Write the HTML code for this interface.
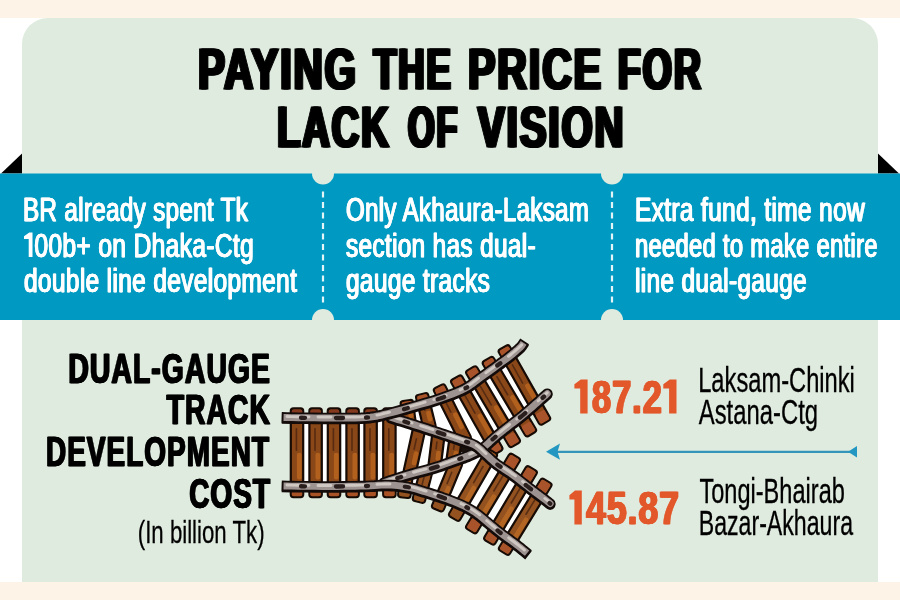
<!DOCTYPE html>
<html><head><meta charset="utf-8"><title>Paying the price for lack of vision</title>
<style>
html,body{margin:0;padding:0;}
body{width:900px;height:600px;overflow:hidden;background:#fff;font-family:"Liberation Sans",sans-serif;}
svg{display:block;position:absolute;left:0;top:0;}
text{font-family:"Liberation Sans",sans-serif;}
</style></head><body>
<svg width="900" height="600" viewBox="0 0 900 600">
<rect x="0" y="0" width="900" height="600" fill="#ffffff"/>
<rect x="0" y="0" width="900" height="18" fill="#fef3e7"/>
<rect x="0" y="582" width="900" height="18" fill="#fef3e7"/>
<path d="M22 582 V44 A26 26 0 0 1 48 18 H852 A26 26 0 0 1 878 44 V582 Z" fill="#dfebde"/>
<polygon points="1,173.6 22,153.6 22,173.6" fill="#000"/>
<polygon points="899,173.6 878,153.6 878,173.6" fill="#000"/>
<rect x="0" y="173.5" width="900" height="146.5" fill="#0099c1"/>
<circle cx="323" cy="173.5" r="11" fill="#dfebde"/>
<circle cx="612" cy="173.5" r="11" fill="#dfebde"/>
<circle cx="323" cy="320" r="11" fill="#dfebde"/>
<circle cx="612" cy="320" r="11" fill="#dfebde"/>
<line x1="323" y1="191.5" x2="323" y2="303" stroke="#e4f5f8" stroke-width="2.2" stroke-dasharray="6 4.5"/>
<line x1="612" y1="191.5" x2="612" y2="303" stroke="#e4f5f8" stroke-width="2.2" stroke-dasharray="6 4.5"/>
<g id="track"><polygon points="297.0,417.5 298.4,417.7 306.2,417.8 314.6,417.9 322.7,418.0 330.0,418.0 336.6,418.0 343.0,418.0 349.3,418.0 355.3,418.0 360.9,417.8 366.0,417.5 370.4,417.1 374.1,416.6 377.5,416.0 380.7,415.3 384.1,414.4 388.0,413.5 392.4,412.4 397.2,411.1 402.2,409.7 407.2,408.2 412.1,406.8 416.6,405.5 420.8,404.3 424.8,403.2 428.6,402.1 432.3,401.0 436.1,399.8 440.0,398.5 444.1,397.1 448.3,395.6 452.5,394.0 456.6,392.4 460.5,390.7 464.0,389.0 467.1,387.3 469.9,385.5 472.5,383.7 474.9,381.8 477.4,379.9 480.0,378.0 482.8,376.0 485.6,374.0 488.5,371.9 491.3,369.9 494.0,367.9 496.6,366.0 499.0,364.3 501.3,362.6 503.5,361.0 505.6,359.5 507.6,358.0 509.5,356.5 511.3,355.1 537.0,402.8 534.8,404.8 532.4,406.8 530.0,409.0 527.5,411.2 524.9,413.4 522.3,415.6 519.6,417.8 516.8,420.0 513.9,422.2 511.0,424.4 508.3,426.5 505.8,428.4 503.6,430.2 501.5,431.8 499.6,433.4 497.7,434.9 495.9,436.4 494.0,438.0 492.1,439.7 490.2,441.4 488.4,443.2 486.5,444.9 484.6,446.5 482.6,448.0 480.6,449.4 478.6,450.6 476.5,451.8 474.4,452.9 472.2,453.9 469.8,455.0 467.3,456.1 464.6,457.1 461.9,458.0 459.1,459.0 456.2,460.0 453.3,461.0 450.5,462.0 447.7,463.1 444.8,464.1 441.8,465.2 438.6,466.3 435.0,467.4 430.9,468.6 426.4,469.8 421.6,471.1 416.7,472.4 412.0,473.7 407.5,475.0 403.1,476.3 398.5,477.8 394.0,479.2 389.9,480.6 386.5,481.7 384.0,482.5 297.0,486.0" fill="#ffffff"/><polygon points="297.0,417.5 391.0,417.5 392.8,418.0 395.1,418.7 398.0,419.6 401.1,420.5 404.4,421.5 407.5,422.5 410.7,423.5 414.1,424.6 417.6,425.7 421.0,426.8 424.4,427.9 427.6,428.9 430.6,429.9 433.4,430.8 436.1,431.7 438.7,432.6 441.4,433.5 444.1,434.4 446.9,435.3 449.7,436.2 452.5,437.1 455.2,438.1 458.0,439.0 460.6,439.9 463.2,440.8 465.8,441.6 468.3,442.4 470.7,443.3 473.1,444.3 475.3,445.5 477.4,446.9 479.3,448.4 481.2,450.0 482.9,451.7 484.7,453.4 486.5,455.0 488.2,456.5 489.8,458.0 491.4,459.5 493.1,461.0 494.9,462.6 497.0,464.2 499.4,465.9 501.9,467.7 504.7,469.5 507.5,471.3 510.3,473.2 513.1,475.2 515.9,477.3 518.8,479.5 521.7,481.8 524.5,484.0 527.2,486.1 529.6,488.0 531.8,489.6 533.7,491.1 535.5,492.4 537.2,493.7 538.9,494.9 540.6,496.2 508.5,538.8 506.4,537.2 504.2,535.6 502.0,534.0 499.8,532.3 497.7,530.6 495.5,528.8 493.3,527.0 491.2,525.3 489.0,523.5 486.8,521.7 484.7,519.9 482.6,518.1 480.4,516.3 478.2,514.6 476.0,513.0 473.8,511.5 471.6,510.1 469.3,508.8 467.0,507.5 464.6,506.2 462.0,505.0 459.2,503.8 456.3,502.6 453.3,501.4 450.2,500.2 447.2,499.1 444.1,498.0 441.1,496.9 438.0,495.9 435.0,494.9 431.9,493.9 428.9,492.9 425.8,492.0 422.8,491.1 419.7,490.1 416.7,489.2 413.7,488.4 410.6,487.6 407.5,487.0 404.3,486.5 401.2,486.0 398.0,485.6 394.7,485.3 391.4,485.1 388.0,485.0 384.6,485.0 381.4,485.1 378.0,485.3 374.5,485.6 370.5,485.8 366.0,486.0 360.9,486.1 355.3,486.2 349.3,486.3 343.0,486.4 336.6,486.5 330.0,486.5 322.7,486.5 314.6,486.4 306.2,486.3 298.4,486.2 297.0,486.0" fill="#ffffff"/><g transform="translate(297.0,408.4) rotate(90.0)"><rect x="0" y="-6.2" width="88.8" height="12.4" rx="2.6" fill="#8a4718" stroke="#170b06" stroke-width="2.2"/><rect x="1" y="-5.2" width="11.0" height="10.4" rx="2" fill="#84391f"/><rect x="76.8" y="-5.2" width="11.0" height="10.4" rx="2" fill="#a85226"/><rect x="44.4" y="-4.6" width="26.6" height="4.7" rx="2" fill="#b9651f" opacity="0.85"/><rect x="19.5" y="-0.2" width="23.1" height="1.6" rx="0.8" fill="#4a2410" opacity="0.8"/></g><g transform="translate(315.6,408.4) rotate(90.0)"><rect x="0" y="-6.2" width="88.8" height="12.4" rx="2.6" fill="#8a4718" stroke="#170b06" stroke-width="2.2"/><rect x="1" y="-5.2" width="11.0" height="10.4" rx="2" fill="#84391f"/><rect x="76.8" y="-5.2" width="11.0" height="10.4" rx="2" fill="#a85226"/><rect x="44.4" y="-4.6" width="26.6" height="4.7" rx="2" fill="#b9651f" opacity="0.85"/><rect x="19.5" y="-0.2" width="23.1" height="1.6" rx="0.8" fill="#4a2410" opacity="0.8"/></g><g transform="translate(334.0,408.4) rotate(90.0)"><rect x="0" y="-6.2" width="88.8" height="12.4" rx="2.6" fill="#8a4718" stroke="#170b06" stroke-width="2.2"/><rect x="1" y="-5.2" width="11.0" height="10.4" rx="2" fill="#84391f"/><rect x="76.8" y="-5.2" width="11.0" height="10.4" rx="2" fill="#a85226"/><rect x="44.4" y="-4.6" width="26.6" height="4.7" rx="2" fill="#b9651f" opacity="0.85"/><rect x="19.5" y="-0.2" width="23.1" height="1.6" rx="0.8" fill="#4a2410" opacity="0.8"/></g><g transform="translate(352.6,408.4) rotate(90.0)"><rect x="0" y="-6.2" width="88.8" height="12.4" rx="2.6" fill="#8a4718" stroke="#170b06" stroke-width="2.2"/><rect x="1" y="-5.2" width="11.0" height="10.4" rx="2" fill="#84391f"/><rect x="76.8" y="-5.2" width="11.0" height="10.4" rx="2" fill="#a85226"/><rect x="44.4" y="-4.6" width="26.6" height="4.7" rx="2" fill="#b9651f" opacity="0.85"/><rect x="19.5" y="-0.2" width="23.1" height="1.6" rx="0.8" fill="#4a2410" opacity="0.8"/></g><g transform="translate(370.6,408.4) rotate(90.0)"><rect x="0" y="-6.2" width="88.8" height="12.4" rx="2.6" fill="#8a4718" stroke="#170b06" stroke-width="2.2"/><rect x="1" y="-5.2" width="11.0" height="10.4" rx="2" fill="#84391f"/><rect x="76.8" y="-5.2" width="11.0" height="10.4" rx="2" fill="#a85226"/><rect x="44.4" y="-4.6" width="26.6" height="4.7" rx="2" fill="#b9651f" opacity="0.85"/><rect x="19.5" y="-0.2" width="23.1" height="1.6" rx="0.8" fill="#4a2410" opacity="0.8"/></g><g transform="translate(389.4,408.4) rotate(90.0)"><rect x="0" y="-6.2" width="88.8" height="12.4" rx="2.6" fill="#8a4718" stroke="#170b06" stroke-width="2.2"/><rect x="1" y="-5.2" width="11.0" height="10.4" rx="2" fill="#84391f"/><rect x="76.8" y="-5.2" width="11.0" height="10.4" rx="2" fill="#a85226"/><rect x="44.4" y="-4.6" width="26.6" height="4.7" rx="2" fill="#b9651f" opacity="0.85"/><rect x="19.5" y="-0.2" width="23.1" height="1.6" rx="0.8" fill="#4a2410" opacity="0.8"/></g><polygon points="460,444 474,440 482,447 474,454 460,452" fill="#1a100c"/><g transform="translate(419.4,428.0) rotate(102.4)"><rect x="0" y="-6.2" width="47.1" height="12.4" rx="2.6" fill="#8a4718" stroke="#170b06" stroke-width="2.2"/><rect x="1" y="-5.2" width="0.1" height="10.4" rx="2" fill="#a9532a"/><rect x="46.0" y="-5.2" width="0.1" height="10.4" rx="2" fill="#a9532a"/><rect x="23.5" y="-4.6" width="14.1" height="4.7" rx="2" fill="#b9651f" opacity="0.85"/><rect x="10.4" y="-0.2" width="12.2" height="1.6" rx="0.8" fill="#4a2410" opacity="0.8"/></g><g transform="translate(438.5,434.0) rotate(96.9)"><rect x="0" y="-6.2" width="33.2" height="12.4" rx="2.6" fill="#8a4718" stroke="#170b06" stroke-width="2.2"/><rect x="1" y="-5.2" width="0.1" height="10.4" rx="2" fill="#a9532a"/><rect x="32.1" y="-5.2" width="0.1" height="10.4" rx="2" fill="#a9532a"/><rect x="16.6" y="-4.6" width="10.0" height="4.7" rx="2" fill="#b9651f" opacity="0.85"/><rect x="7.3" y="-0.2" width="8.6" height="1.6" rx="0.8" fill="#4a2410" opacity="0.8"/></g><g transform="translate(455.5,440.0) rotate(98.1)"><rect x="0" y="-6.2" width="21.2" height="12.4" rx="2.6" fill="#8a4718" stroke="#170b06" stroke-width="2.2"/><rect x="1" y="-5.2" width="0.1" height="10.4" rx="2" fill="#a9532a"/><rect x="20.1" y="-5.2" width="0.1" height="10.4" rx="2" fill="#a9532a"/><rect x="10.6" y="-4.6" width="6.4" height="4.7" rx="2" fill="#b9651f" opacity="0.85"/><rect x="4.7" y="-0.2" width="5.5" height="1.6" rx="0.8" fill="#4a2410" opacity="0.8"/></g><g transform="translate(406.5,400.5) rotate(82.3)"><rect x="0" y="-6.2" width="22.7" height="12.4" rx="2.6" fill="#8a4718" stroke="#170b06" stroke-width="2.2"/><rect x="1" y="-5.2" width="11.0" height="10.4" rx="2" fill="#a9532a"/><rect x="10.7" y="-5.2" width="11.0" height="10.4" rx="2" fill="#8a4718"/><rect x="11.3" y="-4.6" width="6.8" height="4.7" rx="2" fill="#b9651f" opacity="0.85"/><rect x="5.0" y="-0.2" width="5.9" height="1.6" rx="0.8" fill="#4a2410" opacity="0.8"/></g><g transform="translate(421.6,394.1) rotate(76.4)"><rect x="0" y="-6.2" width="35.9" height="12.4" rx="2.6" fill="#8a4718" stroke="#170b06" stroke-width="2.2"/><rect x="1" y="-5.2" width="11.0" height="10.4" rx="2" fill="#a9532a"/><rect x="23.9" y="-5.2" width="11.0" height="10.4" rx="2" fill="#8a4718"/><rect x="17.9" y="-4.6" width="10.8" height="4.7" rx="2" fill="#b9651f" opacity="0.85"/><rect x="7.9" y="-0.2" width="9.3" height="1.6" rx="0.8" fill="#4a2410" opacity="0.8"/></g><g transform="translate(438.6,386.4) rotate(63.3)"><rect x="0" y="-6.2" width="61.1" height="12.4" rx="2.6" fill="#8a4718" stroke="#170b06" stroke-width="2.2"/><rect x="1" y="-5.2" width="11.0" height="10.4" rx="2" fill="#a9532a"/><rect x="49.1" y="-5.2" width="11.0" height="10.4" rx="2" fill="#8a4718"/><rect x="30.5" y="-4.6" width="18.3" height="4.7" rx="2" fill="#b9651f" opacity="0.85"/><rect x="13.4" y="-0.2" width="15.9" height="1.6" rx="0.8" fill="#4a2410" opacity="0.8"/></g><g transform="translate(455.6,377.7) rotate(60.5)"><rect x="0" y="-6.2" width="85.9" height="12.4" rx="2.6" fill="#8a4718" stroke="#170b06" stroke-width="2.2"/><rect x="1" y="-5.2" width="11.0" height="10.4" rx="2" fill="#a9532a"/><rect x="73.9" y="-5.2" width="11.0" height="10.4" rx="2" fill="#a9532a"/><rect x="43.0" y="-4.6" width="25.8" height="4.7" rx="2" fill="#b9651f" opacity="0.85"/><rect x="18.9" y="-0.2" width="22.3" height="1.6" rx="0.8" fill="#4a2410" opacity="0.8"/></g><g transform="translate(470.6,368.6) rotate(59.5)"><rect x="0" y="-6.2" width="88.4" height="12.4" rx="2.6" fill="#8a4718" stroke="#170b06" stroke-width="2.2"/><rect x="1" y="-5.2" width="11.0" height="10.4" rx="2" fill="#a9532a"/><rect x="76.4" y="-5.2" width="11.0" height="10.4" rx="2" fill="#a9532a"/><rect x="44.2" y="-4.6" width="26.5" height="4.7" rx="2" fill="#b9651f" opacity="0.85"/><rect x="19.5" y="-0.2" width="23.0" height="1.6" rx="0.8" fill="#4a2410" opacity="0.8"/></g><g transform="translate(487.2,359.2) rotate(59.3)"><rect x="0" y="-6.2" width="87.1" height="12.4" rx="2.6" fill="#8a4718" stroke="#170b06" stroke-width="2.2"/><rect x="1" y="-5.2" width="11.0" height="10.4" rx="2" fill="#a9532a"/><rect x="75.1" y="-5.2" width="11.0" height="10.4" rx="2" fill="#a9532a"/><rect x="43.5" y="-4.6" width="26.1" height="4.7" rx="2" fill="#b9651f" opacity="0.85"/><rect x="19.2" y="-0.2" width="22.6" height="1.6" rx="0.8" fill="#4a2410" opacity="0.8"/></g><g transform="translate(503.2,347.5) rotate(60.5)"><rect x="0" y="-6.2" width="86.1" height="12.4" rx="2.6" fill="#8a4718" stroke="#170b06" stroke-width="2.2"/><rect x="1" y="-5.2" width="11.0" height="10.4" rx="2" fill="#a9532a"/><rect x="74.1" y="-5.2" width="11.0" height="10.4" rx="2" fill="#a9532a"/><rect x="43.0" y="-4.6" width="25.8" height="4.7" rx="2" fill="#b9651f" opacity="0.85"/><rect x="18.9" y="-0.2" width="22.4" height="1.6" rx="0.8" fill="#4a2410" opacity="0.8"/></g><g transform="translate(406.5,475.0) rotate(96.2)"><rect x="0" y="-6.2" width="22.6" height="12.4" rx="2.6" fill="#93521f" stroke="#170b06" stroke-width="2.2"/><rect x="1" y="-5.2" width="11.0" height="10.4" rx="2" fill="#93521f"/><rect x="10.6" y="-5.2" width="11.0" height="10.4" rx="2" fill="#93521f"/><rect x="11.3" y="-4.6" width="6.8" height="4.7" rx="2" fill="#b86a24" opacity="0.85"/><rect x="5.0" y="-0.2" width="5.9" height="1.6" rx="0.8" fill="#4a2410" opacity="0.8"/></g><g transform="translate(426.5,470.0) rotate(104.4)"><rect x="0" y="-6.2" width="32.9" height="12.4" rx="2.6" fill="#93521f" stroke="#170b06" stroke-width="2.2"/><rect x="1" y="-5.2" width="11.0" height="10.4" rx="2" fill="#93521f"/><rect x="20.9" y="-5.2" width="11.0" height="10.4" rx="2" fill="#93521f"/><rect x="16.5" y="-4.6" width="9.9" height="4.7" rx="2" fill="#b86a24" opacity="0.85"/><rect x="7.2" y="-0.2" width="8.6" height="1.6" rx="0.8" fill="#4a2410" opacity="0.8"/></g><g transform="translate(457.0,461.0) rotate(112.3)"><rect x="0" y="-6.2" width="52.7" height="12.4" rx="2.6" fill="#93521f" stroke="#170b06" stroke-width="2.2"/><rect x="1" y="-5.2" width="11.0" height="10.4" rx="2" fill="#93521f"/><rect x="40.7" y="-5.2" width="11.0" height="10.4" rx="2" fill="#93521f"/><rect x="26.3" y="-4.6" width="15.8" height="4.7" rx="2" fill="#b86a24" opacity="0.85"/><rect x="11.6" y="-0.2" width="13.7" height="1.6" rx="0.8" fill="#4a2410" opacity="0.8"/></g><g transform="translate(492.5,451.3) rotate(120.1)"><rect x="0" y="-6.2" width="77.7" height="12.4" rx="2.6" fill="#93521f" stroke="#170b06" stroke-width="2.2"/><rect x="1" y="-5.2" width="11.0" height="10.4" rx="2" fill="#93521f"/><rect x="65.7" y="-5.2" width="11.0" height="10.4" rx="2" fill="#93521f"/><rect x="38.8" y="-4.6" width="23.3" height="4.7" rx="2" fill="#b86a24" opacity="0.85"/><rect x="17.1" y="-0.2" width="20.2" height="1.6" rx="0.8" fill="#4a2410" opacity="0.8"/></g><g transform="translate(515.5,456.1) rotate(121.0)"><rect x="0" y="-6.2" width="87.4" height="12.4" rx="2.6" fill="#93521f" stroke="#170b06" stroke-width="2.2"/><rect x="1" y="-5.2" width="11.0" height="10.4" rx="2" fill="#a9532a"/><rect x="75.4" y="-5.2" width="11.0" height="10.4" rx="2" fill="#a9532a"/><rect x="43.7" y="-4.6" width="26.2" height="4.7" rx="2" fill="#b86a24" opacity="0.85"/><rect x="19.2" y="-0.2" width="22.7" height="1.6" rx="0.8" fill="#4a2410" opacity="0.8"/></g><g transform="translate(532.4,468.6) rotate(120.7)"><rect x="0" y="-6.2" width="85.7" height="12.4" rx="2.6" fill="#93521f" stroke="#170b06" stroke-width="2.2"/><rect x="1" y="-5.2" width="11.0" height="10.4" rx="2" fill="#a9532a"/><rect x="73.7" y="-5.2" width="11.0" height="10.4" rx="2" fill="#a9532a"/><rect x="42.9" y="-4.6" width="25.7" height="4.7" rx="2" fill="#b86a24" opacity="0.85"/><rect x="18.9" y="-0.2" width="22.3" height="1.6" rx="0.8" fill="#4a2410" opacity="0.8"/></g><g transform="translate(547.1,481.0) rotate(121.5)"><rect x="0" y="-6.2" width="83.8" height="12.4" rx="2.6" fill="#93521f" stroke="#170b06" stroke-width="2.2"/><rect x="1" y="-5.2" width="11.0" height="10.4" rx="2" fill="#a9532a"/><rect x="71.8" y="-5.2" width="11.0" height="10.4" rx="2" fill="#a9532a"/><rect x="41.9" y="-4.6" width="25.1" height="4.7" rx="2" fill="#b86a24" opacity="0.85"/><rect x="18.4" y="-0.2" width="21.8" height="1.6" rx="0.8" fill="#4a2410" opacity="0.8"/></g><polyline points="384.0,482.5 386.5,481.7 389.9,480.6 394.0,479.2 398.5,477.8 403.1,476.3 407.5,475.0 412.0,473.7 416.7,472.4 421.6,471.1 426.4,469.8 430.9,468.6 435.0,467.4 438.6,466.3 441.8,465.2 444.8,464.1 447.7,463.1 450.5,462.0 453.3,461.0 456.2,460.0 459.1,459.0 461.9,458.0 464.6,457.1 467.3,456.1 469.8,455.0 472.2,453.9 474.4,452.9 476.5,451.8 478.6,450.6 480.6,449.4 482.6,448.0 484.6,446.5 486.5,444.9 488.4,443.2 490.2,441.4 492.1,439.7 494.0,438.0 495.9,436.4 497.7,434.9 499.6,433.4 501.5,431.8 503.6,430.2 505.8,428.4 508.3,426.5 511.0,424.4 513.9,422.2 516.8,420.0 519.6,417.8 522.3,415.6 524.9,413.4 527.5,411.2 530.0,409.0 532.5,406.8 534.8,404.7 537.0,402.8 539.1,401.0 541.1,399.1 543.0,397.4 544.8,395.9 546.2,394.6 547.3,393.7" fill="none" stroke="#140c0a" stroke-width="10.4" stroke-linecap="round" stroke-linejoin="round" transform="translate(0,1.1)"/><polyline points="384.0,482.5 386.5,481.7 389.9,480.6 394.0,479.2 398.5,477.8 403.1,476.3 407.5,475.0 412.0,473.7 416.7,472.4 421.6,471.1 426.4,469.8 430.9,468.6 435.0,467.4 438.6,466.3 441.8,465.2 444.8,464.1 447.7,463.1 450.5,462.0 453.3,461.0 456.2,460.0 459.1,459.0 461.9,458.0 464.6,457.1 467.3,456.1 469.8,455.0 472.2,453.9 474.4,452.9 476.5,451.8 478.6,450.6 480.6,449.4 482.6,448.0 484.6,446.5 486.5,444.9 488.4,443.2 490.2,441.4 492.1,439.7 494.0,438.0 495.9,436.4 497.7,434.9 499.6,433.4 501.5,431.8 503.6,430.2 505.8,428.4 508.3,426.5 511.0,424.4 513.9,422.2 516.8,420.0 519.6,417.8 522.3,415.6 524.9,413.4 527.5,411.2 530.0,409.0 532.5,406.8 534.8,404.7 537.0,402.8 539.1,401.0 541.1,399.1 543.0,397.4 544.8,395.9 546.2,394.6 547.3,393.7" fill="none" stroke="#140c0a" stroke-width="10.600000000000001" stroke-linecap="round" stroke-linejoin="round"/><polyline points="384.0,482.5 386.5,481.7 389.9,480.6 394.0,479.2 398.5,477.8 403.1,476.3 407.5,475.0 412.0,473.7 416.7,472.4 421.6,471.1 426.4,469.8 430.9,468.6 435.0,467.4 438.6,466.3 441.8,465.2 444.8,464.1 447.7,463.1 450.5,462.0 453.3,461.0 456.2,460.0 459.1,459.0 461.9,458.0 464.6,457.1 467.3,456.1 469.8,455.0 472.2,453.9 474.4,452.9 476.5,451.8 478.6,450.6 480.6,449.4 482.6,448.0 484.6,446.5 486.5,444.9 488.4,443.2 490.2,441.4 492.1,439.7 494.0,438.0 495.9,436.4 497.7,434.9 499.6,433.4 501.5,431.8 503.6,430.2 505.8,428.4 508.3,426.5 511.0,424.4 513.9,422.2 516.8,420.0 519.6,417.8 522.3,415.6 524.9,413.4 527.5,411.2 530.0,409.0 532.5,406.8 534.8,404.7 537.0,402.8 539.1,401.0 541.1,399.1 543.0,397.4 544.8,395.9 546.2,394.6 547.3,393.7" fill="none" stroke="#9d9391" stroke-width="6.9" stroke-linecap="round" stroke-linejoin="round"/><polyline points="384.0,482.5 386.5,481.7 389.9,480.6 394.0,479.2 398.5,477.8 403.1,476.3 407.5,475.0 412.0,473.7 416.7,472.4 421.6,471.1 426.4,469.8 430.9,468.6 435.0,467.4 438.6,466.3 441.8,465.2 444.8,464.1 447.7,463.1 450.5,462.0 453.3,461.0 456.2,460.0 459.1,459.0 461.9,458.0 464.6,457.1 467.3,456.1 469.8,455.0 472.2,453.9 474.4,452.9 476.5,451.8 478.6,450.6 480.6,449.4 482.6,448.0 484.6,446.5 486.5,444.9 488.4,443.2 490.2,441.4 492.1,439.7 494.0,438.0 495.9,436.4 497.7,434.9 499.6,433.4 501.5,431.8 503.6,430.2 505.8,428.4 508.3,426.5 511.0,424.4 513.9,422.2 516.8,420.0 519.6,417.8 522.3,415.6 524.9,413.4 527.5,411.2 530.0,409.0 532.5,406.8 534.8,404.7 537.0,402.8 539.1,401.0 541.1,399.1 543.0,397.4 544.8,395.9 546.2,394.6 547.3,393.7" fill="none" stroke="#cfc8c3" stroke-width="2.9" stroke-linecap="round" stroke-linejoin="round" stroke-dasharray="22 9 13 15" transform="translate(0,-1)"/><polyline points="384.0,482.5 386.5,481.7 389.9,480.6 394.0,479.2 398.5,477.8 403.1,476.3 407.5,475.0 412.0,473.7 416.7,472.4 421.6,471.1 426.4,469.8 430.9,468.6 435.0,467.4 438.6,466.3 441.8,465.2 444.8,464.1 447.7,463.1 450.5,462.0 453.3,461.0 456.2,460.0 459.1,459.0 461.9,458.0 464.6,457.1 467.3,456.1 469.8,455.0 472.2,453.9 474.4,452.9 476.5,451.8 478.6,450.6 480.6,449.4 482.6,448.0 484.6,446.5 486.5,444.9 488.4,443.2 490.2,441.4 492.1,439.7 494.0,438.0 495.9,436.4 497.7,434.9 499.6,433.4 501.5,431.8 503.6,430.2 505.8,428.4 508.3,426.5 511.0,424.4 513.9,422.2 516.8,420.0 519.6,417.8 522.3,415.6 524.9,413.4 527.5,411.2 530.0,409.0 532.5,406.8 534.8,404.7 537.0,402.8 539.1,401.0 541.1,399.1 543.0,397.4 544.8,395.9 546.2,394.6 547.3,393.7" fill="none" stroke="#2a1f1d" stroke-width="4.3" stroke-linecap="round" stroke-dasharray="4 31 7 23 2 37" stroke-dashoffset="-14"/><polyline points="391.0,417.5 392.8,418.0 395.1,418.7 398.0,419.6 401.1,420.5 404.4,421.5 407.5,422.5 410.7,423.5 414.1,424.6 417.6,425.7 421.0,426.8 424.4,427.9 427.6,428.9 430.6,429.9 433.4,430.8 436.1,431.7 438.7,432.6 441.4,433.5 444.1,434.4 446.9,435.3 449.7,436.2 452.5,437.1 455.2,438.1 458.0,439.0 460.6,439.9 463.2,440.8 465.8,441.6 468.3,442.4 470.7,443.3 473.1,444.3 475.3,445.5 477.4,446.9 479.3,448.4 481.2,450.0 482.9,451.7 484.7,453.4 486.5,455.0 488.2,456.5 489.8,458.0 491.4,459.5 493.1,461.0 494.9,462.6 497.0,464.2 499.4,465.9 501.9,467.7 504.7,469.5 507.5,471.3 510.3,473.2 513.1,475.2 515.9,477.3 518.8,479.5 521.7,481.8 524.5,484.0 527.2,486.1 529.6,488.0 531.8,489.6 533.7,491.1 535.5,492.4 537.2,493.7 538.9,494.9 540.6,496.2 542.4,497.6 544.3,499.0 546.1,500.4 547.8,501.7 549.2,502.8 550.2,503.6" fill="none" stroke="#140c0a" stroke-width="10.4" stroke-linecap="round" stroke-linejoin="round" transform="translate(0,1.1)"/><polyline points="391.0,417.5 392.8,418.0 395.1,418.7 398.0,419.6 401.1,420.5 404.4,421.5 407.5,422.5 410.7,423.5 414.1,424.6 417.6,425.7 421.0,426.8 424.4,427.9 427.6,428.9 430.6,429.9 433.4,430.8 436.1,431.7 438.7,432.6 441.4,433.5 444.1,434.4 446.9,435.3 449.7,436.2 452.5,437.1 455.2,438.1 458.0,439.0 460.6,439.9 463.2,440.8 465.8,441.6 468.3,442.4 470.7,443.3 473.1,444.3 475.3,445.5 477.4,446.9 479.3,448.4 481.2,450.0 482.9,451.7 484.7,453.4 486.5,455.0 488.2,456.5 489.8,458.0 491.4,459.5 493.1,461.0 494.9,462.6 497.0,464.2 499.4,465.9 501.9,467.7 504.7,469.5 507.5,471.3 510.3,473.2 513.1,475.2 515.9,477.3 518.8,479.5 521.7,481.8 524.5,484.0 527.2,486.1 529.6,488.0 531.8,489.6 533.7,491.1 535.5,492.4 537.2,493.7 538.9,494.9 540.6,496.2 542.4,497.6 544.3,499.0 546.1,500.4 547.8,501.7 549.2,502.8 550.2,503.6" fill="none" stroke="#140c0a" stroke-width="10.600000000000001" stroke-linecap="round" stroke-linejoin="round"/><polyline points="391.0,417.5 392.8,418.0 395.1,418.7 398.0,419.6 401.1,420.5 404.4,421.5 407.5,422.5 410.7,423.5 414.1,424.6 417.6,425.7 421.0,426.8 424.4,427.9 427.6,428.9 430.6,429.9 433.4,430.8 436.1,431.7 438.7,432.6 441.4,433.5 444.1,434.4 446.9,435.3 449.7,436.2 452.5,437.1 455.2,438.1 458.0,439.0 460.6,439.9 463.2,440.8 465.8,441.6 468.3,442.4 470.7,443.3 473.1,444.3 475.3,445.5 477.4,446.9 479.3,448.4 481.2,450.0 482.9,451.7 484.7,453.4 486.5,455.0 488.2,456.5 489.8,458.0 491.4,459.5 493.1,461.0 494.9,462.6 497.0,464.2 499.4,465.9 501.9,467.7 504.7,469.5 507.5,471.3 510.3,473.2 513.1,475.2 515.9,477.3 518.8,479.5 521.7,481.8 524.5,484.0 527.2,486.1 529.6,488.0 531.8,489.6 533.7,491.1 535.5,492.4 537.2,493.7 538.9,494.9 540.6,496.2 542.4,497.6 544.3,499.0 546.1,500.4 547.8,501.7 549.2,502.8 550.2,503.6" fill="none" stroke="#9d9391" stroke-width="6.9" stroke-linecap="round" stroke-linejoin="round"/><polyline points="391.0,417.5 392.8,418.0 395.1,418.7 398.0,419.6 401.1,420.5 404.4,421.5 407.5,422.5 410.7,423.5 414.1,424.6 417.6,425.7 421.0,426.8 424.4,427.9 427.6,428.9 430.6,429.9 433.4,430.8 436.1,431.7 438.7,432.6 441.4,433.5 444.1,434.4 446.9,435.3 449.7,436.2 452.5,437.1 455.2,438.1 458.0,439.0 460.6,439.9 463.2,440.8 465.8,441.6 468.3,442.4 470.7,443.3 473.1,444.3 475.3,445.5 477.4,446.9 479.3,448.4 481.2,450.0 482.9,451.7 484.7,453.4 486.5,455.0 488.2,456.5 489.8,458.0 491.4,459.5 493.1,461.0 494.9,462.6 497.0,464.2 499.4,465.9 501.9,467.7 504.7,469.5 507.5,471.3 510.3,473.2 513.1,475.2 515.9,477.3 518.8,479.5 521.7,481.8 524.5,484.0 527.2,486.1 529.6,488.0 531.8,489.6 533.7,491.1 535.5,492.4 537.2,493.7 538.9,494.9 540.6,496.2 542.4,497.6 544.3,499.0 546.1,500.4 547.8,501.7 549.2,502.8 550.2,503.6" fill="none" stroke="#cfc8c3" stroke-width="2.9" stroke-linecap="round" stroke-linejoin="round" stroke-dasharray="22 9 13 15" transform="translate(0,-1)"/><polyline points="391.0,417.5 392.8,418.0 395.1,418.7 398.0,419.6 401.1,420.5 404.4,421.5 407.5,422.5 410.7,423.5 414.1,424.6 417.6,425.7 421.0,426.8 424.4,427.9 427.6,428.9 430.6,429.9 433.4,430.8 436.1,431.7 438.7,432.6 441.4,433.5 444.1,434.4 446.9,435.3 449.7,436.2 452.5,437.1 455.2,438.1 458.0,439.0 460.6,439.9 463.2,440.8 465.8,441.6 468.3,442.4 470.7,443.3 473.1,444.3 475.3,445.5 477.4,446.9 479.3,448.4 481.2,450.0 482.9,451.7 484.7,453.4 486.5,455.0 488.2,456.5 489.8,458.0 491.4,459.5 493.1,461.0 494.9,462.6 497.0,464.2 499.4,465.9 501.9,467.7 504.7,469.5 507.5,471.3 510.3,473.2 513.1,475.2 515.9,477.3 518.8,479.5 521.7,481.8 524.5,484.0 527.2,486.1 529.6,488.0 531.8,489.6 533.7,491.1 535.5,492.4 537.2,493.7 538.9,494.9 540.6,496.2 542.4,497.6 544.3,499.0 546.1,500.4 547.8,501.7 549.2,502.8 550.2,503.6" fill="none" stroke="#2a1f1d" stroke-width="4.3" stroke-linecap="round" stroke-dasharray="4 31 7 23 2 37" stroke-dashoffset="-14"/><polyline points="287.0,486.0 291.8,486.1 298.4,486.2 306.2,486.3 314.6,486.4 322.7,486.5 330.0,486.5 336.6,486.5 343.0,486.4 349.3,486.3 355.3,486.2 360.9,486.1 366.0,486.0 370.5,485.8 374.5,485.6 378.0,485.3 381.4,485.1 384.6,485.0 388.0,485.0 391.4,485.1 394.7,485.3 398.0,485.6 401.2,486.0 404.3,486.5 407.5,487.0 410.6,487.6 413.7,488.4 416.7,489.2 419.7,490.1 422.8,491.1 425.8,492.0 428.9,492.9 431.9,493.9 435.0,494.9 438.0,495.9 441.1,496.9 444.1,498.0 447.2,499.1 450.2,500.2 453.3,501.4 456.3,502.6 459.2,503.8 462.0,505.0 464.6,506.2 467.0,507.5 469.3,508.8 471.6,510.1 473.8,511.5 476.0,513.0 478.2,514.6 480.4,516.3 482.6,518.1 484.7,519.9 486.8,521.7 489.0,523.5 491.2,525.3 493.3,527.0 495.5,528.8 497.7,530.6 499.8,532.3 502.0,534.0 504.2,535.7 506.5,537.3 508.7,538.9 510.9,540.5 513.0,542.0 515.0,543.5 516.9,545.0 518.7,546.4 520.5,547.8 522.1,549.1 523.4,550.2 524.4,551.0" fill="none" stroke="#140c0a" stroke-width="10.4" stroke-linecap="square" stroke-linejoin="round" transform="translate(0,1.1)"/><polyline points="287.0,486.0 291.8,486.1 298.4,486.2 306.2,486.3 314.6,486.4 322.7,486.5 330.0,486.5 336.6,486.5 343.0,486.4 349.3,486.3 355.3,486.2 360.9,486.1 366.0,486.0 370.5,485.8 374.5,485.6 378.0,485.3 381.4,485.1 384.6,485.0 388.0,485.0 391.4,485.1 394.7,485.3 398.0,485.6 401.2,486.0 404.3,486.5 407.5,487.0 410.6,487.6 413.7,488.4 416.7,489.2 419.7,490.1 422.8,491.1 425.8,492.0 428.9,492.9 431.9,493.9 435.0,494.9 438.0,495.9 441.1,496.9 444.1,498.0 447.2,499.1 450.2,500.2 453.3,501.4 456.3,502.6 459.2,503.8 462.0,505.0 464.6,506.2 467.0,507.5 469.3,508.8 471.6,510.1 473.8,511.5 476.0,513.0 478.2,514.6 480.4,516.3 482.6,518.1 484.7,519.9 486.8,521.7 489.0,523.5 491.2,525.3 493.3,527.0 495.5,528.8 497.7,530.6 499.8,532.3 502.0,534.0 504.2,535.7 506.5,537.3 508.7,538.9 510.9,540.5 513.0,542.0 515.0,543.5 516.9,545.0 518.7,546.4 520.5,547.8 522.1,549.1 523.4,550.2 524.4,551.0" fill="none" stroke="#140c0a" stroke-width="10.600000000000001" stroke-linecap="square" stroke-linejoin="round"/><polyline points="287.0,486.0 291.8,486.1 298.4,486.2 306.2,486.3 314.6,486.4 322.7,486.5 330.0,486.5 336.6,486.5 343.0,486.4 349.3,486.3 355.3,486.2 360.9,486.1 366.0,486.0 370.5,485.8 374.5,485.6 378.0,485.3 381.4,485.1 384.6,485.0 388.0,485.0 391.4,485.1 394.7,485.3 398.0,485.6 401.2,486.0 404.3,486.5 407.5,487.0 410.6,487.6 413.7,488.4 416.7,489.2 419.7,490.1 422.8,491.1 425.8,492.0 428.9,492.9 431.9,493.9 435.0,494.9 438.0,495.9 441.1,496.9 444.1,498.0 447.2,499.1 450.2,500.2 453.3,501.4 456.3,502.6 459.2,503.8 462.0,505.0 464.6,506.2 467.0,507.5 469.3,508.8 471.6,510.1 473.8,511.5 476.0,513.0 478.2,514.6 480.4,516.3 482.6,518.1 484.7,519.9 486.8,521.7 489.0,523.5 491.2,525.3 493.3,527.0 495.5,528.8 497.7,530.6 499.8,532.3 502.0,534.0 504.2,535.7 506.5,537.3 508.7,538.9 510.9,540.5 513.0,542.0 515.0,543.5 516.9,545.0 518.7,546.4 520.5,547.8 522.1,549.1 523.4,550.2 524.4,551.0" fill="none" stroke="#9d9391" stroke-width="6.9" stroke-linecap="square" stroke-linejoin="round"/><polyline points="287.0,486.0 291.8,486.1 298.4,486.2 306.2,486.3 314.6,486.4 322.7,486.5 330.0,486.5 336.6,486.5 343.0,486.4 349.3,486.3 355.3,486.2 360.9,486.1 366.0,486.0 370.5,485.8 374.5,485.6 378.0,485.3 381.4,485.1 384.6,485.0 388.0,485.0 391.4,485.1 394.7,485.3 398.0,485.6 401.2,486.0 404.3,486.5 407.5,487.0 410.6,487.6 413.7,488.4 416.7,489.2 419.7,490.1 422.8,491.1 425.8,492.0 428.9,492.9 431.9,493.9 435.0,494.9 438.0,495.9 441.1,496.9 444.1,498.0 447.2,499.1 450.2,500.2 453.3,501.4 456.3,502.6 459.2,503.8 462.0,505.0 464.6,506.2 467.0,507.5 469.3,508.8 471.6,510.1 473.8,511.5 476.0,513.0 478.2,514.6 480.4,516.3 482.6,518.1 484.7,519.9 486.8,521.7 489.0,523.5 491.2,525.3 493.3,527.0 495.5,528.8 497.7,530.6 499.8,532.3 502.0,534.0 504.2,535.7 506.5,537.3 508.7,538.9 510.9,540.5 513.0,542.0 515.0,543.5 516.9,545.0 518.7,546.4 520.5,547.8 522.1,549.1 523.4,550.2 524.4,551.0" fill="none" stroke="#cfc8c3" stroke-width="2.9" stroke-linecap="round" stroke-linejoin="round" stroke-dasharray="22 9 13 15" transform="translate(0,-1)"/><polyline points="287.0,486.0 291.8,486.1 298.4,486.2 306.2,486.3 314.6,486.4 322.7,486.5 330.0,486.5 336.6,486.5 343.0,486.4 349.3,486.3 355.3,486.2 360.9,486.1 366.0,486.0 370.5,485.8 374.5,485.6 378.0,485.3 381.4,485.1 384.6,485.0 388.0,485.0 391.4,485.1 394.7,485.3 398.0,485.6 401.2,486.0 404.3,486.5 407.5,487.0 410.6,487.6 413.7,488.4 416.7,489.2 419.7,490.1 422.8,491.1 425.8,492.0 428.9,492.9 431.9,493.9 435.0,494.9 438.0,495.9 441.1,496.9 444.1,498.0 447.2,499.1 450.2,500.2 453.3,501.4 456.3,502.6 459.2,503.8 462.0,505.0 464.6,506.2 467.0,507.5 469.3,508.8 471.6,510.1 473.8,511.5 476.0,513.0 478.2,514.6 480.4,516.3 482.6,518.1 484.7,519.9 486.8,521.7 489.0,523.5 491.2,525.3 493.3,527.0 495.5,528.8 497.7,530.6 499.8,532.3 502.0,534.0 504.2,535.7 506.5,537.3 508.7,538.9 510.9,540.5 513.0,542.0 515.0,543.5 516.9,545.0 518.7,546.4 520.5,547.8 522.1,549.1 523.4,550.2 524.4,551.0" fill="none" stroke="#2a1f1d" stroke-width="4.3" stroke-linecap="round" stroke-dasharray="4 31 7 23 2 37" stroke-dashoffset="-14"/><polyline points="287.0,417.5 291.8,417.6 298.4,417.7 306.2,417.8 314.6,417.9 322.7,418.0 330.0,418.0 336.6,418.0 343.0,418.0 349.3,418.0 355.3,418.0 360.9,417.8 366.0,417.5 370.4,417.1 374.1,416.6 377.5,416.0 380.7,415.3 384.1,414.4 388.0,413.5 392.4,412.4 397.2,411.1 402.2,409.7 407.2,408.2 412.1,406.8 416.6,405.5 420.8,404.3 424.8,403.2 428.6,402.1 432.3,401.0 436.1,399.8 440.0,398.5 444.1,397.1 448.3,395.6 452.5,394.0 456.6,392.4 460.5,390.7 464.0,389.0 467.1,387.3 469.9,385.5 472.5,383.7 474.9,381.8 477.4,379.9 480.0,378.0 482.8,376.0 485.6,374.0 488.5,371.9 491.3,369.9 494.0,367.9 496.6,366.0 499.0,364.3 501.3,362.6 503.5,361.0 505.6,359.5 507.6,358.0 509.5,356.5 511.4,355.0 513.2,353.5 514.9,352.1 516.5,350.7 517.9,349.5 519.0,348.5 519.9,347.7 520.5,347.1 520.9,346.7 521.2,346.3 521.5,346.1 521.7,345.8" fill="none" stroke="#140c0a" stroke-width="10.4" stroke-linecap="square" stroke-linejoin="round" transform="translate(0,1.1)"/><polyline points="287.0,417.5 291.8,417.6 298.4,417.7 306.2,417.8 314.6,417.9 322.7,418.0 330.0,418.0 336.6,418.0 343.0,418.0 349.3,418.0 355.3,418.0 360.9,417.8 366.0,417.5 370.4,417.1 374.1,416.6 377.5,416.0 380.7,415.3 384.1,414.4 388.0,413.5 392.4,412.4 397.2,411.1 402.2,409.7 407.2,408.2 412.1,406.8 416.6,405.5 420.8,404.3 424.8,403.2 428.6,402.1 432.3,401.0 436.1,399.8 440.0,398.5 444.1,397.1 448.3,395.6 452.5,394.0 456.6,392.4 460.5,390.7 464.0,389.0 467.1,387.3 469.9,385.5 472.5,383.7 474.9,381.8 477.4,379.9 480.0,378.0 482.8,376.0 485.6,374.0 488.5,371.9 491.3,369.9 494.0,367.9 496.6,366.0 499.0,364.3 501.3,362.6 503.5,361.0 505.6,359.5 507.6,358.0 509.5,356.5 511.4,355.0 513.2,353.5 514.9,352.1 516.5,350.7 517.9,349.5 519.0,348.5 519.9,347.7 520.5,347.1 520.9,346.7 521.2,346.3 521.5,346.1 521.7,345.8" fill="none" stroke="#140c0a" stroke-width="10.600000000000001" stroke-linecap="square" stroke-linejoin="round"/><polyline points="287.0,417.5 291.8,417.6 298.4,417.7 306.2,417.8 314.6,417.9 322.7,418.0 330.0,418.0 336.6,418.0 343.0,418.0 349.3,418.0 355.3,418.0 360.9,417.8 366.0,417.5 370.4,417.1 374.1,416.6 377.5,416.0 380.7,415.3 384.1,414.4 388.0,413.5 392.4,412.4 397.2,411.1 402.2,409.7 407.2,408.2 412.1,406.8 416.6,405.5 420.8,404.3 424.8,403.2 428.6,402.1 432.3,401.0 436.1,399.8 440.0,398.5 444.1,397.1 448.3,395.6 452.5,394.0 456.6,392.4 460.5,390.7 464.0,389.0 467.1,387.3 469.9,385.5 472.5,383.7 474.9,381.8 477.4,379.9 480.0,378.0 482.8,376.0 485.6,374.0 488.5,371.9 491.3,369.9 494.0,367.9 496.6,366.0 499.0,364.3 501.3,362.6 503.5,361.0 505.6,359.5 507.6,358.0 509.5,356.5 511.4,355.0 513.2,353.5 514.9,352.1 516.5,350.7 517.9,349.5 519.0,348.5 519.9,347.7 520.5,347.1 520.9,346.7 521.2,346.3 521.5,346.1 521.7,345.8" fill="none" stroke="#9d9391" stroke-width="6.9" stroke-linecap="square" stroke-linejoin="round"/><polyline points="287.0,417.5 291.8,417.6 298.4,417.7 306.2,417.8 314.6,417.9 322.7,418.0 330.0,418.0 336.6,418.0 343.0,418.0 349.3,418.0 355.3,418.0 360.9,417.8 366.0,417.5 370.4,417.1 374.1,416.6 377.5,416.0 380.7,415.3 384.1,414.4 388.0,413.5 392.4,412.4 397.2,411.1 402.2,409.7 407.2,408.2 412.1,406.8 416.6,405.5 420.8,404.3 424.8,403.2 428.6,402.1 432.3,401.0 436.1,399.8 440.0,398.5 444.1,397.1 448.3,395.6 452.5,394.0 456.6,392.4 460.5,390.7 464.0,389.0 467.1,387.3 469.9,385.5 472.5,383.7 474.9,381.8 477.4,379.9 480.0,378.0 482.8,376.0 485.6,374.0 488.5,371.9 491.3,369.9 494.0,367.9 496.6,366.0 499.0,364.3 501.3,362.6 503.5,361.0 505.6,359.5 507.6,358.0 509.5,356.5 511.4,355.0 513.2,353.5 514.9,352.1 516.5,350.7 517.9,349.5 519.0,348.5 519.9,347.7 520.5,347.1 520.9,346.7 521.2,346.3 521.5,346.1 521.7,345.8" fill="none" stroke="#cfc8c3" stroke-width="2.9" stroke-linecap="round" stroke-linejoin="round" stroke-dasharray="22 9 13 15" transform="translate(0,-1)"/><polyline points="287.0,417.5 291.8,417.6 298.4,417.7 306.2,417.8 314.6,417.9 322.7,418.0 330.0,418.0 336.6,418.0 343.0,418.0 349.3,418.0 355.3,418.0 360.9,417.8 366.0,417.5 370.4,417.1 374.1,416.6 377.5,416.0 380.7,415.3 384.1,414.4 388.0,413.5 392.4,412.4 397.2,411.1 402.2,409.7 407.2,408.2 412.1,406.8 416.6,405.5 420.8,404.3 424.8,403.2 428.6,402.1 432.3,401.0 436.1,399.8 440.0,398.5 444.1,397.1 448.3,395.6 452.5,394.0 456.6,392.4 460.5,390.7 464.0,389.0 467.1,387.3 469.9,385.5 472.5,383.7 474.9,381.8 477.4,379.9 480.0,378.0 482.8,376.0 485.6,374.0 488.5,371.9 491.3,369.9 494.0,367.9 496.6,366.0 499.0,364.3 501.3,362.6 503.5,361.0 505.6,359.5 507.6,358.0 509.5,356.5 511.4,355.0 513.2,353.5 514.9,352.1 516.5,350.7 517.9,349.5 519.0,348.5 519.9,347.7 520.5,347.1 520.9,346.7 521.2,346.3 521.5,346.1 521.7,345.8" fill="none" stroke="#2a1f1d" stroke-width="4.3" stroke-linecap="round" stroke-dasharray="4 31 7 23 2 37" stroke-dashoffset="-14"/></g>
<line x1="557" y1="451.8" x2="850" y2="451.8" stroke="#3596b9" stroke-width="2.2"/>
<polygon points="546,451.8 560,443.5 557.5,451.8 560,459.8" fill="#2397c2"/>
<polygon points="848,451.8 857,446 857,457.4" fill="#2397c2"/>
<defs><filter id="idf" x="0" y="0" width="900" height="600" filterUnits="userSpaceOnUse"><feOffset dx="0" dy="0"/></filter></defs>
<g filter="url(#idf)">
<text x="196.74" y="89.3" font-size="58.2" font-weight="bold" fill="#000" stroke="#000" stroke-width="1.2" stroke-linejoin="miter" stroke-miterlimit="3" textLength="159.89" lengthAdjust="spacingAndGlyphs" letter-spacing="3.0">PAYING</text><text x="198.14" y="89.3" font-size="58.2" font-weight="bold" fill="#000" stroke="#000" stroke-width="1.2" stroke-linejoin="miter" stroke-miterlimit="3" textLength="159.89" lengthAdjust="spacingAndGlyphs" letter-spacing="3.0">PAYING</text><text x="199.54" y="89.3" font-size="58.2" font-weight="bold" fill="#000" stroke="#000" stroke-width="1.2" stroke-linejoin="miter" stroke-miterlimit="3" textLength="159.89" lengthAdjust="spacingAndGlyphs" letter-spacing="3.0">PAYING</text>
<text x="372.36" y="89.3" font-size="58.2" font-weight="bold" fill="#000" stroke="#000" stroke-width="1.2" stroke-linejoin="miter" stroke-miterlimit="3" textLength="79.04" lengthAdjust="spacingAndGlyphs" letter-spacing="3.0">THE</text><text x="373.76" y="89.3" font-size="58.2" font-weight="bold" fill="#000" stroke="#000" stroke-width="1.2" stroke-linejoin="miter" stroke-miterlimit="3" textLength="79.04" lengthAdjust="spacingAndGlyphs" letter-spacing="3.0">THE</text><text x="375.16" y="89.3" font-size="58.2" font-weight="bold" fill="#000" stroke="#000" stroke-width="1.2" stroke-linejoin="miter" stroke-miterlimit="3" textLength="79.04" lengthAdjust="spacingAndGlyphs" letter-spacing="3.0">THE</text>
<text x="466.75" y="89.3" font-size="58.2" font-weight="bold" fill="#000" stroke="#000" stroke-width="1.2" stroke-linejoin="miter" stroke-miterlimit="3" textLength="134.86" lengthAdjust="spacingAndGlyphs" letter-spacing="3.0">PRICE</text><text x="468.15" y="89.3" font-size="58.2" font-weight="bold" fill="#000" stroke="#000" stroke-width="1.2" stroke-linejoin="miter" stroke-miterlimit="3" textLength="134.86" lengthAdjust="spacingAndGlyphs" letter-spacing="3.0">PRICE</text><text x="469.55" y="89.3" font-size="58.2" font-weight="bold" fill="#000" stroke="#000" stroke-width="1.2" stroke-linejoin="miter" stroke-miterlimit="3" textLength="134.86" lengthAdjust="spacingAndGlyphs" letter-spacing="3.0">PRICE</text>
<text x="616.54" y="89.3" font-size="58.2" font-weight="bold" fill="#000" stroke="#000" stroke-width="1.2" stroke-linejoin="miter" stroke-miterlimit="3" textLength="84.84" lengthAdjust="spacingAndGlyphs" letter-spacing="3.0">FOR</text><text x="617.94" y="89.3" font-size="58.2" font-weight="bold" fill="#000" stroke="#000" stroke-width="1.2" stroke-linejoin="miter" stroke-miterlimit="3" textLength="84.84" lengthAdjust="spacingAndGlyphs" letter-spacing="3.0">FOR</text><text x="619.34" y="89.3" font-size="58.2" font-weight="bold" fill="#000" stroke="#000" stroke-width="1.2" stroke-linejoin="miter" stroke-miterlimit="3" textLength="84.84" lengthAdjust="spacingAndGlyphs" letter-spacing="3.0">FOR</text>
<text x="275.66" y="147.3" font-size="58.2" font-weight="bold" fill="#000" stroke="#000" stroke-width="1.2" stroke-linejoin="miter" stroke-miterlimit="3" textLength="113.52" lengthAdjust="spacingAndGlyphs" letter-spacing="3.0">LACK</text><text x="277.06" y="147.3" font-size="58.2" font-weight="bold" fill="#000" stroke="#000" stroke-width="1.2" stroke-linejoin="miter" stroke-miterlimit="3" textLength="113.52" lengthAdjust="spacingAndGlyphs" letter-spacing="3.0">LACK</text><text x="278.46" y="147.3" font-size="58.2" font-weight="bold" fill="#000" stroke="#000" stroke-width="1.2" stroke-linejoin="miter" stroke-miterlimit="3" textLength="113.52" lengthAdjust="spacingAndGlyphs" letter-spacing="3.0">LACK</text>
<text x="406.60" y="147.3" font-size="58.2" font-weight="bold" fill="#000" stroke="#000" stroke-width="1.2" stroke-linejoin="miter" stroke-miterlimit="3" textLength="51.02" lengthAdjust="spacingAndGlyphs" letter-spacing="3.0">OF</text><text x="408.00" y="147.3" font-size="58.2" font-weight="bold" fill="#000" stroke="#000" stroke-width="1.2" stroke-linejoin="miter" stroke-miterlimit="3" textLength="51.02" lengthAdjust="spacingAndGlyphs" letter-spacing="3.0">OF</text><text x="409.40" y="147.3" font-size="58.2" font-weight="bold" fill="#000" stroke="#000" stroke-width="1.2" stroke-linejoin="miter" stroke-miterlimit="3" textLength="51.02" lengthAdjust="spacingAndGlyphs" letter-spacing="3.0">OF</text>
<text x="476.61" y="147.3" font-size="58.2" font-weight="bold" fill="#000" stroke="#000" stroke-width="1.2" stroke-linejoin="miter" stroke-miterlimit="3" textLength="147.44" lengthAdjust="spacingAndGlyphs" letter-spacing="3.0">VISION</text><text x="478.01" y="147.3" font-size="58.2" font-weight="bold" fill="#000" stroke="#000" stroke-width="1.2" stroke-linejoin="miter" stroke-miterlimit="3" textLength="147.44" lengthAdjust="spacingAndGlyphs" letter-spacing="3.0">VISION</text><text x="479.41" y="147.3" font-size="58.2" font-weight="bold" fill="#000" stroke="#000" stroke-width="1.2" stroke-linejoin="miter" stroke-miterlimit="3" textLength="147.44" lengthAdjust="spacingAndGlyphs" letter-spacing="3.0">VISION</text>
<text x="22.60" y="221.0" font-size="33.0" font-weight="normal" fill="#ffffff" stroke="#ffffff" stroke-width="0.45" stroke-linejoin="miter" stroke-miterlimit="3" textLength="225.20" lengthAdjust="spacingAndGlyphs" letter-spacing="0.5">BR already spent Tk</text><text x="23.00" y="221.0" font-size="33.0" font-weight="normal" fill="#ffffff" stroke="#ffffff" stroke-width="0.45" stroke-linejoin="miter" stroke-miterlimit="3" textLength="225.20" lengthAdjust="spacingAndGlyphs" letter-spacing="0.5">BR already spent Tk</text><text x="23.40" y="221.0" font-size="33.0" font-weight="normal" fill="#ffffff" stroke="#ffffff" stroke-width="0.45" stroke-linejoin="miter" stroke-miterlimit="3" textLength="225.20" lengthAdjust="spacingAndGlyphs" letter-spacing="0.5">BR already spent Tk</text>
<text x="33.99" y="256.7" font-size="33.0" font-weight="normal" fill="#ffffff" stroke="#ffffff" stroke-width="0.45" stroke-linejoin="miter" stroke-miterlimit="3" textLength="219.74" lengthAdjust="spacingAndGlyphs" letter-spacing="0.5">00b+ on Dhaka-Ctg</text><text x="34.39" y="256.7" font-size="33.0" font-weight="normal" fill="#ffffff" stroke="#ffffff" stroke-width="0.45" stroke-linejoin="miter" stroke-miterlimit="3" textLength="219.74" lengthAdjust="spacingAndGlyphs" letter-spacing="0.5">00b+ on Dhaka-Ctg</text><text x="34.79" y="256.7" font-size="33.0" font-weight="normal" fill="#ffffff" stroke="#ffffff" stroke-width="0.45" stroke-linejoin="miter" stroke-miterlimit="3" textLength="219.74" lengthAdjust="spacingAndGlyphs" letter-spacing="0.5">00b+ on Dhaka-Ctg</text>
<text x="23.60" y="291.7" font-size="33.0" font-weight="normal" fill="#ffffff" stroke="#ffffff" stroke-width="0.45" stroke-linejoin="miter" stroke-miterlimit="3" textLength="273.20" lengthAdjust="spacingAndGlyphs" letter-spacing="0.5">double line development</text><text x="24.00" y="291.7" font-size="33.0" font-weight="normal" fill="#ffffff" stroke="#ffffff" stroke-width="0.45" stroke-linejoin="miter" stroke-miterlimit="3" textLength="273.20" lengthAdjust="spacingAndGlyphs" letter-spacing="0.5">double line development</text><text x="24.40" y="291.7" font-size="33.0" font-weight="normal" fill="#ffffff" stroke="#ffffff" stroke-width="0.45" stroke-linejoin="miter" stroke-miterlimit="3" textLength="273.20" lengthAdjust="spacingAndGlyphs" letter-spacing="0.5">double line development</text>
<text x="345.60" y="221.0" font-size="33.0" font-weight="normal" fill="#ffffff" stroke="#ffffff" stroke-width="0.45" stroke-linejoin="miter" stroke-miterlimit="3" textLength="243.21" lengthAdjust="spacingAndGlyphs" letter-spacing="0.5">Only Akhaura-Laksam</text><text x="346.00" y="221.0" font-size="33.0" font-weight="normal" fill="#ffffff" stroke="#ffffff" stroke-width="0.45" stroke-linejoin="miter" stroke-miterlimit="3" textLength="243.21" lengthAdjust="spacingAndGlyphs" letter-spacing="0.5">Only Akhaura-Laksam</text><text x="346.40" y="221.0" font-size="33.0" font-weight="normal" fill="#ffffff" stroke="#ffffff" stroke-width="0.45" stroke-linejoin="miter" stroke-miterlimit="3" textLength="243.21" lengthAdjust="spacingAndGlyphs" letter-spacing="0.5">Only Akhaura-Laksam</text>
<text x="345.60" y="256.7" font-size="33.0" font-weight="normal" fill="#ffffff" stroke="#ffffff" stroke-width="0.45" stroke-linejoin="miter" stroke-miterlimit="3" textLength="190.01" lengthAdjust="spacingAndGlyphs" letter-spacing="0.5">section has dual-</text><text x="346.00" y="256.7" font-size="33.0" font-weight="normal" fill="#ffffff" stroke="#ffffff" stroke-width="0.45" stroke-linejoin="miter" stroke-miterlimit="3" textLength="190.01" lengthAdjust="spacingAndGlyphs" letter-spacing="0.5">section has dual-</text><text x="346.40" y="256.7" font-size="33.0" font-weight="normal" fill="#ffffff" stroke="#ffffff" stroke-width="0.45" stroke-linejoin="miter" stroke-miterlimit="3" textLength="190.01" lengthAdjust="spacingAndGlyphs" letter-spacing="0.5">section has dual-</text>
<text x="345.60" y="291.7" font-size="33.0" font-weight="normal" fill="#ffffff" stroke="#ffffff" stroke-width="0.45" stroke-linejoin="miter" stroke-miterlimit="3" textLength="144.20" lengthAdjust="spacingAndGlyphs" letter-spacing="0.5">gauge tracks</text><text x="346.00" y="291.7" font-size="33.0" font-weight="normal" fill="#ffffff" stroke="#ffffff" stroke-width="0.45" stroke-linejoin="miter" stroke-miterlimit="3" textLength="144.20" lengthAdjust="spacingAndGlyphs" letter-spacing="0.5">gauge tracks</text><text x="346.40" y="291.7" font-size="33.0" font-weight="normal" fill="#ffffff" stroke="#ffffff" stroke-width="0.45" stroke-linejoin="miter" stroke-miterlimit="3" textLength="144.20" lengthAdjust="spacingAndGlyphs" letter-spacing="0.5">gauge tracks</text>
<text x="634.60" y="221.0" font-size="33.0" font-weight="normal" fill="#ffffff" stroke="#ffffff" stroke-width="0.45" stroke-linejoin="miter" stroke-miterlimit="3" textLength="230.00" lengthAdjust="spacingAndGlyphs" letter-spacing="0.5">Extra fund, time now</text><text x="635.00" y="221.0" font-size="33.0" font-weight="normal" fill="#ffffff" stroke="#ffffff" stroke-width="0.45" stroke-linejoin="miter" stroke-miterlimit="3" textLength="230.00" lengthAdjust="spacingAndGlyphs" letter-spacing="0.5">Extra fund, time now</text><text x="635.40" y="221.0" font-size="33.0" font-weight="normal" fill="#ffffff" stroke="#ffffff" stroke-width="0.45" stroke-linejoin="miter" stroke-miterlimit="3" textLength="230.00" lengthAdjust="spacingAndGlyphs" letter-spacing="0.5">Extra fund, time now</text>
<text x="634.59" y="256.7" font-size="33.0" font-weight="normal" fill="#ffffff" stroke="#ffffff" stroke-width="0.45" stroke-linejoin="miter" stroke-miterlimit="3" textLength="242.85" lengthAdjust="spacingAndGlyphs" letter-spacing="0.5">needed to make entire</text><text x="634.99" y="256.7" font-size="33.0" font-weight="normal" fill="#ffffff" stroke="#ffffff" stroke-width="0.45" stroke-linejoin="miter" stroke-miterlimit="3" textLength="242.85" lengthAdjust="spacingAndGlyphs" letter-spacing="0.5">needed to make entire</text><text x="635.39" y="256.7" font-size="33.0" font-weight="normal" fill="#ffffff" stroke="#ffffff" stroke-width="0.45" stroke-linejoin="miter" stroke-miterlimit="3" textLength="242.85" lengthAdjust="spacingAndGlyphs" letter-spacing="0.5">needed to make entire</text>
<text x="634.59" y="291.7" font-size="33.0" font-weight="normal" fill="#ffffff" stroke="#ffffff" stroke-width="0.45" stroke-linejoin="miter" stroke-miterlimit="3" textLength="172.02" lengthAdjust="spacingAndGlyphs" letter-spacing="0.5">line dual-gauge</text><text x="634.99" y="291.7" font-size="33.0" font-weight="normal" fill="#ffffff" stroke="#ffffff" stroke-width="0.45" stroke-linejoin="miter" stroke-miterlimit="3" textLength="172.02" lengthAdjust="spacingAndGlyphs" letter-spacing="0.5">line dual-gauge</text><text x="635.39" y="291.7" font-size="33.0" font-weight="normal" fill="#ffffff" stroke="#ffffff" stroke-width="0.45" stroke-linejoin="miter" stroke-miterlimit="3" textLength="172.02" lengthAdjust="spacingAndGlyphs" letter-spacing="0.5">line dual-gauge</text>
<text x="67.83" y="382.6" font-size="42.0" font-weight="bold" fill="#000" stroke="#000" stroke-width="0.6" stroke-linejoin="miter" stroke-miterlimit="3" textLength="202.64" lengthAdjust="spacingAndGlyphs" letter-spacing="1.6">DUAL-GAUGE</text><text x="68.38" y="382.6" font-size="42.0" font-weight="bold" fill="#000" stroke="#000" stroke-width="0.6" stroke-linejoin="miter" stroke-miterlimit="3" textLength="202.64" lengthAdjust="spacingAndGlyphs" letter-spacing="1.6">DUAL-GAUGE</text><text x="68.93" y="382.6" font-size="42.0" font-weight="bold" fill="#000" stroke="#000" stroke-width="0.6" stroke-linejoin="miter" stroke-miterlimit="3" textLength="202.64" lengthAdjust="spacingAndGlyphs" letter-spacing="1.6">DUAL-GAUGE</text>
<text x="166.05" y="424.2" font-size="42.0" font-weight="bold" fill="#000" stroke="#000" stroke-width="0.6" stroke-linejoin="miter" stroke-miterlimit="3" textLength="104.41" lengthAdjust="spacingAndGlyphs" letter-spacing="1.6">TRACK</text><text x="166.60" y="424.2" font-size="42.0" font-weight="bold" fill="#000" stroke="#000" stroke-width="0.6" stroke-linejoin="miter" stroke-miterlimit="3" textLength="104.41" lengthAdjust="spacingAndGlyphs" letter-spacing="1.6">TRACK</text><text x="167.15" y="424.2" font-size="42.0" font-weight="bold" fill="#000" stroke="#000" stroke-width="0.6" stroke-linejoin="miter" stroke-miterlimit="3" textLength="104.41" lengthAdjust="spacingAndGlyphs" letter-spacing="1.6">TRACK</text>
<text x="45.44" y="465.8" font-size="42.0" font-weight="bold" fill="#000" stroke="#000" stroke-width="0.6" stroke-linejoin="miter" stroke-miterlimit="3" textLength="224.01" lengthAdjust="spacingAndGlyphs" letter-spacing="1.6">DEVELOPMENT</text><text x="45.99" y="465.8" font-size="42.0" font-weight="bold" fill="#000" stroke="#000" stroke-width="0.6" stroke-linejoin="miter" stroke-miterlimit="3" textLength="224.01" lengthAdjust="spacingAndGlyphs" letter-spacing="1.6">DEVELOPMENT</text><text x="46.54" y="465.8" font-size="42.0" font-weight="bold" fill="#000" stroke="#000" stroke-width="0.6" stroke-linejoin="miter" stroke-miterlimit="3" textLength="224.01" lengthAdjust="spacingAndGlyphs" letter-spacing="1.6">DEVELOPMENT</text>
<text x="188.64" y="508.2" font-size="42.0" font-weight="bold" fill="#000" stroke="#000" stroke-width="0.6" stroke-linejoin="miter" stroke-miterlimit="3" textLength="81.86" lengthAdjust="spacingAndGlyphs" letter-spacing="1.6">COST</text><text x="189.19" y="508.2" font-size="42.0" font-weight="bold" fill="#000" stroke="#000" stroke-width="0.6" stroke-linejoin="miter" stroke-miterlimit="3" textLength="81.86" lengthAdjust="spacingAndGlyphs" letter-spacing="1.6">COST</text><text x="189.74" y="508.2" font-size="42.0" font-weight="bold" fill="#000" stroke="#000" stroke-width="0.6" stroke-linejoin="miter" stroke-miterlimit="3" textLength="81.86" lengthAdjust="spacingAndGlyphs" letter-spacing="1.6">COST</text>
<text x="137.76" y="543.3" font-size="31.2" font-weight="normal" fill="#000" stroke="#000" stroke-width="0.3" stroke-linejoin="miter" stroke-miterlimit="3" textLength="126.86" lengthAdjust="spacingAndGlyphs">(In billion Tk)</text>
<text x="591.34" y="413.3" font-size="46" font-weight="bold" fill="#e2582b" stroke="#e2582b" stroke-width="0.7" stroke-linejoin="miter" stroke-miterlimit="3" textLength="70.87" lengthAdjust="spacingAndGlyphs" letter-spacing="1.2">87.2</text><text x="591.94" y="413.3" font-size="46" font-weight="bold" fill="#e2582b" stroke="#e2582b" stroke-width="0.7" stroke-linejoin="miter" stroke-miterlimit="3" textLength="70.87" lengthAdjust="spacingAndGlyphs" letter-spacing="1.2">87.2</text><text x="592.54" y="413.3" font-size="46" font-weight="bold" fill="#e2582b" stroke="#e2582b" stroke-width="0.7" stroke-linejoin="miter" stroke-miterlimit="3" textLength="70.87" lengthAdjust="spacingAndGlyphs" letter-spacing="1.2">87.2</text>
<text x="585.40" y="524.2" font-size="46" font-weight="bold" fill="#e2582b" stroke="#e2582b" stroke-width="0.7" stroke-linejoin="miter" stroke-miterlimit="3" textLength="94.02" lengthAdjust="spacingAndGlyphs" letter-spacing="1.2">45.87</text><text x="586.00" y="524.2" font-size="46" font-weight="bold" fill="#e2582b" stroke="#e2582b" stroke-width="0.7" stroke-linejoin="miter" stroke-miterlimit="3" textLength="94.02" lengthAdjust="spacingAndGlyphs" letter-spacing="1.2">45.87</text><text x="586.60" y="524.2" font-size="46" font-weight="bold" fill="#e2582b" stroke="#e2582b" stroke-width="0.7" stroke-linejoin="miter" stroke-miterlimit="3" textLength="94.02" lengthAdjust="spacingAndGlyphs" letter-spacing="1.2">45.87</text>
<text x="698.18" y="391.6" font-size="35.6" font-weight="normal" fill="#000" stroke="#000" stroke-width="0.35" stroke-linejoin="miter" stroke-miterlimit="3" textLength="156.70" lengthAdjust="spacingAndGlyphs">Laksam-Chinki</text>
<text x="698.80" y="423.7" font-size="35.6" font-weight="normal" fill="#000" stroke="#000" stroke-width="0.35" stroke-linejoin="miter" stroke-miterlimit="3" textLength="119.24" lengthAdjust="spacingAndGlyphs">Astana-Ctg</text>
<text x="699.40" y="503.0" font-size="35.6" font-weight="normal" fill="#000" stroke="#000" stroke-width="0.35" stroke-linejoin="miter" stroke-miterlimit="3" textLength="145.46" lengthAdjust="spacingAndGlyphs">Tongi-Bhairab</text>
<text x="698.76" y="535.4" font-size="35.6" font-weight="normal" fill="#000" stroke="#000" stroke-width="0.35" stroke-linejoin="miter" stroke-miterlimit="3" textLength="154.24" lengthAdjust="spacingAndGlyphs">Bazar-Akhaura</text>
</g>
<polygon points="587.6,379.6 580.8,379.6 574.4,384.2 574.4,388.5 580.2,388.5 580.2,413.6 587.6,413.6" fill="#e2582b"/><polygon points="676.5,379.6 669.7,379.6 663.3,384.2 663.3,388.5 669.1,388.5 669.1,413.6 676.5,413.6" fill="#e2582b"/><polygon points="581.8,490.6 575.0,490.6 569.4,495.2 569.4,499.5 574.4,499.5 574.4,524.6 581.8,524.6" fill="#e2582b"/><polygon points="32.5,232.6 29.3,232.6 24.0,236.2 24.0,239.0 28.7,239.0 28.7,256.9 32.5,256.9" fill="#ffffff"/>
</svg>
</body></html>
